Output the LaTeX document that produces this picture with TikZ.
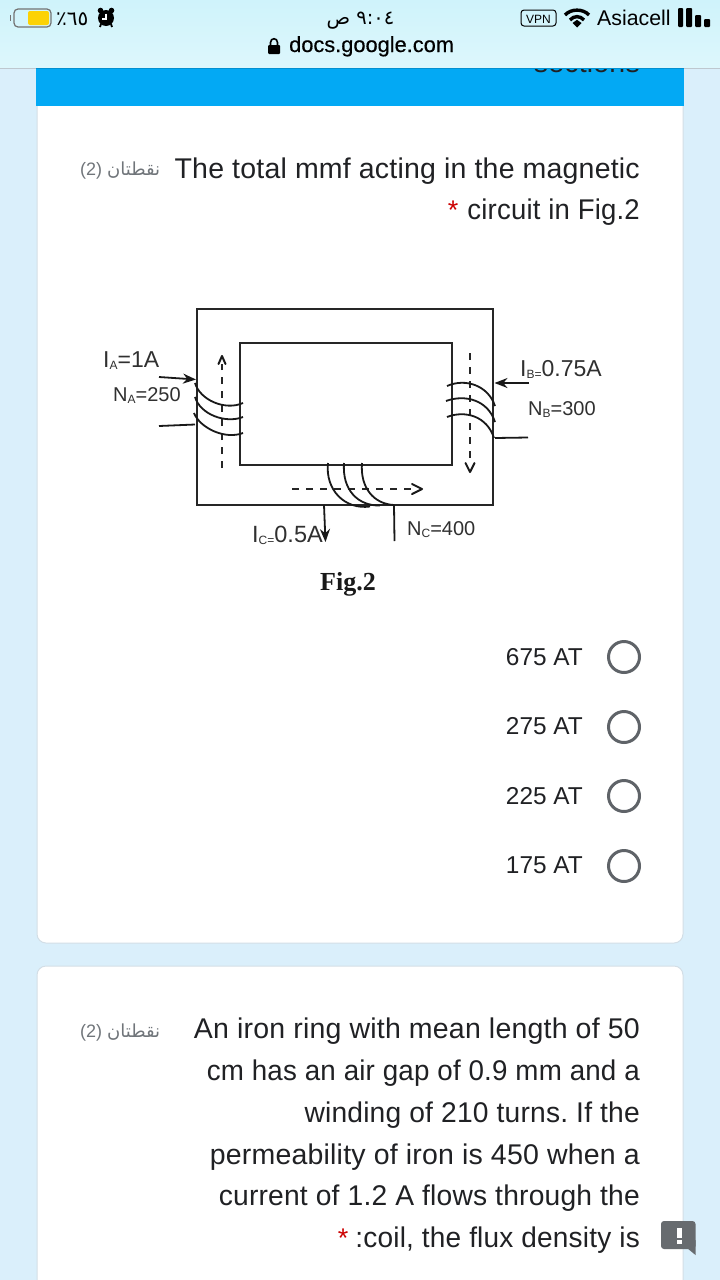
\documentclass[tikz,border=0pt]{standalone}
\usepackage{fontspec}
\setmainfont{Liberation Sans}
\newfontfamily\arabicfont[Script=Arabic]{DejaVu Sans}
\newfontfamily\serifbold[BoldFont={Liberation Serif Bold}]{Liberation Serif}
\newfontfamily\medfont[FakeBold=0.35]{Liberation Sans}
\newfontfamily\wordfont[LetterSpace=0.7]{Liberation Sans}
\TeXXeTstate=1
\frenchspacing
\usetikzlibrary{arrows.meta}
\definecolor{pagebg}{HTML}{DAEFFB}
\definecolor{barA}{HTML}{CFF3FB}
\definecolor{barB}{HTML}{DDF7FC}
\definecolor{head}{HTML}{03A9F4}
\definecolor{ink}{HTML}{202124}
\definecolor{greyt}{HTML}{70757A}
\definecolor{ring}{HTML}{5F6368}
\definecolor{cardline}{HTML}{D3DEE6}
\definecolor{labelc}{HTML}{303030}
\newcommand{\sz}[1]{\fontsize{#1}{#1}\selectfont}
\newcommand{\lbl}[3]{#1\raisebox{-0.12em}{\fontsize{12}{12}\selectfont #2}#3}
\newcommand{\sx}[2]{\scalebox{#1}[1]{#2}}
\tikzset{
  x=1pt,y=-1pt,
  txt/.style={inner sep=0pt,anchor=base east,text=ink,font=\wordfont\sz{28.5}},
  opt/.style={inner sep=0pt,anchor=base east,text=ink,font=\sz{24.4}},
  pts/.style={inner sep=0pt,anchor=base west,text=greyt,font=\sz{18}},
  dlab/.style={inner sep=0pt,anchor=base west,text=labelc,font=\sz{23}},
  core/.style={draw=black!85,line width=2pt},
  wire/.style={draw=black!90,line width=1.8pt},
  flux/.style={draw=black!85,line width=1.9pt,dash pattern=on 7pt off 7pt},
  open/.style={draw=black!90,line width=2pt,line cap=round,line join=round},
  radio/.style={draw=ring,line width=3pt,circle,minimum size=31pt,inner sep=0pt},
  star/.style={inner sep=0pt,anchor=base,text=red!80!black,font=\sz{27}},
  tip/.style={-{Stealth[length=13pt,width=10pt]}}
}
\begin{document}
\begin{tikzpicture}
\useasboundingbox (0,0) rectangle (720,1280);
\fill[pagebg] (0,0) rectangle (720,1280);
% cards
\fill[white,draw=cardline,line width=1pt,rounded corners=9pt] (37,90) rectangle (683,943);
\fill[white,draw=cardline,line width=1pt,rounded corners=9pt] (37,966) rectangle (683,1300);
% header
\fill[head] (36,60) rectangle (684,106);
\node[inner sep=0pt,anchor=base east,text=ink,font=\wordfont\sz{28.5}] (sect) at (640,72) {sections};
% status bar
\shade[top color=barA,bottom color=barB] (0,0) rectangle (720,68);
\draw[cardline!90!black,line width=.8pt] (0,68.3) -- (36,68.3) (684,68.3) -- (720,68.3);
\draw[head!85!black,line width=.8pt] (36,68.3) -- (684,68.3);
% battery
\draw[black!55,line width=1.2pt,rounded corners=4pt] (14,9) rectangle (51,27);
\fill[black!55] (9.5,15) rectangle (11,21);
\fill[yellow!70!orange,rounded corners=2pt] (28,11) rectangle (49,25);
\node[inner sep=0pt,anchor=base west,text=black,font=\arabicfont\sz{20}] (batt) at (56,25) {\mbox{٪}\mbox{٦٥}};
% alarm
\fill[black] (106,18) circle (8);
\fill[black] (100.5,10.5) circle (2.8);
\fill[black] (111.5,10.5) circle (2.8);
\draw[white,line width=1.2pt] (106,13.5) -- (106,19) -- (102,19);
\draw[black,line width=1.8pt] (101,24) -- (100,27) (111,24) -- (112,27);
% time
\node[inner sep=0pt,anchor=base,text=black,font=\arabicfont\sz{19.5}] (time) at (360.5,24) {\beginR\beginL{}٩:٠٤\endL{} ص\endR};
% url
\fill[black,rounded corners=1pt] (268,45) rectangle (280,54);
\draw[black,line width=1.6pt] (270.5,46) -- (270.5,42.5) .. controls (270.5,37.5) and (277.5,37.5) .. (277.5,42.5) -- (277.5,46);
\node[inner sep=0pt,anchor=base west,text=black,font=\medfont\sz{21.8}] (url) at (289,52) {docs.google.com};
% VPN
\draw[black,line width=1pt,rounded corners=3pt] (521,10) rectangle (556,26);
\node[inner sep=0pt,anchor=base,text=black,font=\sz{12}] (vpn) at (538.5,23) {VPN};
% wifi
\draw[black,line width=3.4pt] (565,15) .. controls (571,8.5) and (583,8.5) .. (589,15);
\draw[black,line width=3.4pt] (570,20) .. controls (574,15.5) and (580,15.5) .. (584,20);
\fill[black] (572.5,23) -- (577,19.8) -- (581.5,23) -- (577,27.5) -- cycle;
\node[inner sep=0pt,anchor=base west,text=black,font=\sz{21.3}] (carrier) at (597,25) {Asiacell};
% signal
\fill[black,rounded corners=1pt] (678,8) rectangle (683,27);
\fill[black,rounded corners=1pt] (686,8) rectangle (692,27);
\fill[black,rounded corners=1pt] (695,15) rectangle (701,27);
\fill[black,rounded corners=1pt] (704,19) rectangle (710,27);
% question 1
\node[txt] (q1a) at (640,178) {The total mmf acting in the magnetic};
\node[txt] (q1b) at (640,219) {\sx{0.966}{circuit in Fig.2}};
\node[star] (s1) at (453,219) {*};
\node[pts] (p1) at (80,175) {(2) \arabicfont\beginR نقطتان\endR};
% magnetic circuit
\draw[core] (197,309) rectangle (493,505);
\draw[core] (240,343) rectangle (452,465);
% flux paths
\draw[flux] (222,468) -- (222,364);
\draw[open] (218.5,364) -- (222,356) -- (225.5,364);
\draw[flux] (470,353) -- (470,463);
\draw[open] (465.5,463) -- (470,472) -- (474.5,463);
\draw[flux] (292,489) -- (413,489);
\draw[open] (412,484) -- (422,489) -- (412,494);
% coils A
\draw[wire] (195,383) .. controls (200,400) and (225,411) .. (243,403);
\draw[wire] (195,397) .. controls (200,414) and (225,424) .. (243,417);
\draw[wire] (194,413) .. controls (200,428) and (225,440) .. (243,433);
\draw[wire,tip] (159,377) -- (196,379.5);
\draw[wire] (159,426) -- (195,424.5);
% coils B
\draw[wire] (447,386) .. controls (465,378) and (488,385) .. (495,406);
\draw[wire] (446,401) .. controls (465,394) and (488,400) .. (495,422);
\draw[wire] (447,417) .. controls (465,410) and (487,416) .. (494,438);
\draw[wire,tip] (529,383) -- (494.5,383);
\draw[wire] (495,438) -- (528,437.5);
% coils C
\draw[wire] (328,463) .. controls (325,490) and (345,510) .. (370,506.5);
\draw[wire] (344,463) .. controls (342,490) and (358,506) .. (380,505.5);
\draw[wire] (362,463) .. controls (360,488) and (374,504) .. (394,505);
\draw[wire,tip] (324,505) -- (325.5,542);
\draw[wire] (394,505) -- (394.5,541);
% labels
\node[dlab] (ia) at (103,367) {\lbl{I}{A}{=1A}};
\node[dlab,font=\sz{20}] (na) at (113,401) {\lbl{N}{A}{=250}};
\node[dlab] (ib) at (520,376) {\lbl{I}{B=}{0.75A}};
\node[dlab,font=\sz{20}] (nb) at (528,415) {\lbl{N}{B}{=300}};
\node[dlab,font=\sz{23.5}] (ic) at (252,542) {\lbl{I}{C=}{0.5A}};
\node[dlab,font=\sz{20}] (nc) at (407,535) {\lbl{N}{C}{=400}};
\node[inner sep=0pt,anchor=base,text=black!90,font=\serifbold\bfseries\sz{26}] (fig) at (348,590) {Fig.2};
% options
\node[opt] (o1) at (583,665) {675 AT};
\node[opt] (o2) at (583,734) {275 AT};
\node[opt] (o3) at (583,804) {225 AT};
\node[opt] (o4) at (583,873) {175 AT};
\node[radio] (r1) at (624,657) {};
\node[radio] (r2) at (624,727) {};
\node[radio] (r3) at (624,796) {};
\node[radio] (r4) at (624,866) {};
% question 2
\node[pts] (p2) at (80,1037) {(2) \arabicfont\beginR نقطتان\endR};
\node[txt] (q2a) at (640,1038) {An iron ring with mean length of 50};
\node[txt] (q2b) at (640,1080) {\sx{0.973}{cm has an air gap of 0.9 mm and a}};
\node[txt] (q2c) at (640,1122) {\sx{0.99}{winding of 210 turns. If the}};
\node[txt] (q2d) at (640,1164) {permeability of iron is 450 when a};
\node[txt] (q2e) at (640,1205) {\sx{0.99}{current of 1.2 A flows through the}};
\node[txt] (q2f) at (640,1247) {\sx{0.983}{:coil, the flux density is}};
\node[star] (s2) at (343,1247) {*};
% feedback
\fill[ring!95!white,rounded corners=3pt] (661,1221) rectangle (695.5,1249);
\fill[ring!95!white] (687,1248) -- (695.5,1255) -- (695.5,1240) -- cycle;
\fill[white] (676.5,1228) rectangle (681.5,1238);
\fill[white] (676.5,1240) rectangle (681.5,1244);
\end{tikzpicture}
\end{document}
